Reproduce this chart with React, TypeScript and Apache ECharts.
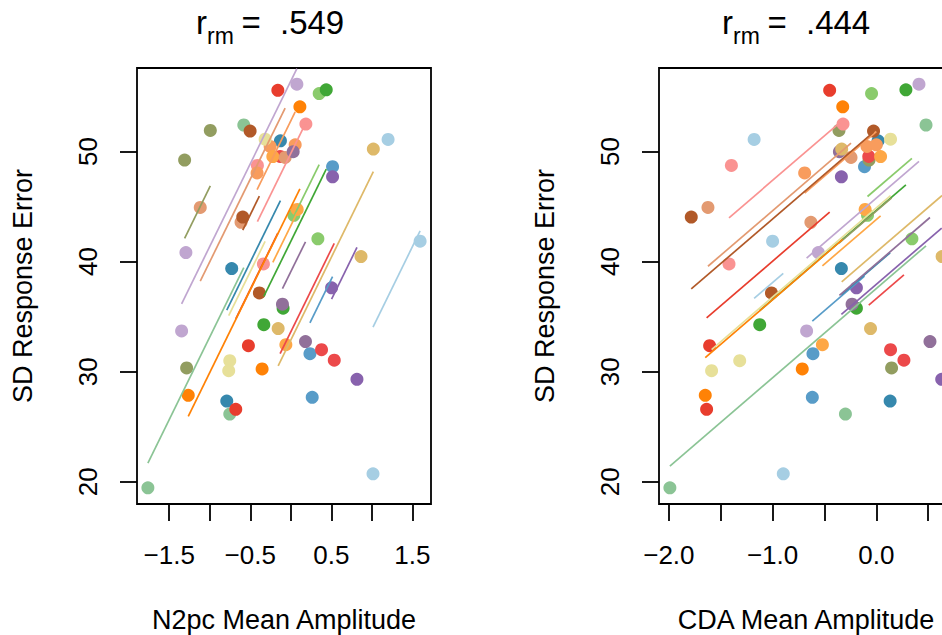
import { useEffect, useRef } from 'react';
import * as echarts from 'echarts';

// Repeated-measures data: 20 participants x 3 conditions.
// Each block of three values belongs to one participant (SUBJECT index).
const SUBJECT = [
  0, 0, 0, 1, 1, 1, 2, 2, 2, 3, 3, 3, 4, 4, 4,
  5, 5, 5, 6, 6, 6, 7, 7, 7, 8, 8, 8, 9, 9, 9,
  10, 10, 10, 11, 11, 11, 12, 12, 12, 13, 13, 13, 14, 14, 14,
  15, 15, 15, 16, 16, 16, 17, 17, 17, 18, 18, 18, 19, 19, 19,
];

// SD response error (shared by both panels)
const SD_ERROR = [
  51.09, 41.85, 20.73, 48.62, 31.63, 27.67, 50.96, 39.36, 27.33, 52.4, 26.15, 19.45, 55.25, 44.2, 42.06,
  55.6, 35.76, 34.27, 51.91, 49.22, 30.34, 52.49, 48.73, 39.78, 49.55, 32.0, 31.04, 55.55, 32.36, 26.58,
  50.45, 50.6, 48.05, 49.53, 44.73, 32.45, 54.05, 30.25, 27.85, 49.46, 44.91, 43.56, 56.11, 40.82, 33.7,
  47.7, 37.61, 29.31, 49.98, 36.13, 32.73, 51.11, 31.0, 30.09, 50.22, 40.45, 33.91, 51.85, 44.04, 37.15,
];

// N2pc mean amplitude
const N2PC = [
  1.2, 1.595, 1.014, 0.515, 0.236, 0.264, -0.128, -0.729, -0.79, -0.58, -0.753, -1.763, 0.35, 0.038, 0.334,
  0.437, -0.095, -0.333, -0.993, -1.31, -1.285, 0.186, -0.412, -0.338, -0.132, 0.379, 0.536, -0.16, -0.523, -0.679,
  -0.255, 0.054, -0.416, -0.222, 0.079, -0.061, 0.112, -0.354, -1.265, -0.07, -1.117, -0.614, 0.075, -1.294, -1.347,
  0.515, 0.503, 0.816, 0.029, -0.103, 0.181, -0.317, -0.753, -0.766, 1.018, 0.866, -0.156, -0.502, -0.593, -0.388,
];

// CDA mean amplitude
const CDA = [
  -1.178, -1.0, -0.897, -0.114, -0.611, -0.617, 0.017, -0.337, 0.133, 0.479, -0.298, -1.99, -0.046, -0.085, 0.343,
  0.285, -0.192, -1.124, -0.36, -0.07, 0.147, -0.321, -1.397, -1.42, -0.073, 0.137, 0.266, -0.45, -1.607, -1.636,
  -0.09, 0.0, -0.691, 0.041, -0.108, -0.52, -0.324, -0.714, -1.649, -0.244, -1.623, -0.631, 0.411, -0.559, -0.672,
  -0.337, -0.192, 0.63, -0.356, -0.234, 0.517, 0.137, -1.317, -1.588, -0.334, 0.634, -0.056, -0.027, -1.784, -1.011,
];

// Participant colours (Paired palette ramped to 20 steps)
const PALETTE = [
  '#A6CEE3', '#589CC8', '#3688AD', '#8BC495', '#8ACB6C',
  '#40A736', '#929D60', '#FA9392', '#EC494A', '#E83D2D',
  '#F89C5D', '#FEA746', '#FF8206', '#E39A71', '#C0A6D0',
  '#8862AD', '#91709A', '#E7E099', '#DEB969', '#B15928',
];

const R_RM = ['.549', '.444'];
const X_NAMES = ['N2pc Mean Amplitude', 'CDA Mean Amplitude'];
const Y_NAME = 'SD Response Error';
const X_TICKS = [
  [-1.5, -1, -0.5, 0, 0.5, 1, 1.5],
  [-2, -1.5, -1, -0.5, 0, 0.5],
];
const X_TICK_LABELS = [
  [-1.5, -0.5, 0.5, 1.5],
  [-2, -1, 0],
];
const Y_TICKS = [20, 30, 40, 50];

const FONT = '"Liberation Sans", Arial, Helvetica, sans-serif';
const PAGE_W = 942;
const PAGE_H = 635;
const CANVAS_W = 980; // second panel runs past the right edge of the page
const PLOT_LEFT = [137, 659];
const PLOT_TOP = 68;
const PLOT_W = 294;
const PLOT_H = 436;
const TITLE_SHIFT = [0, 526];

// base-graphics style range: data range extended by 4% on each side
function paddedRange(v: number[]): [number, number] {
  const lo = Math.min(...v);
  const hi = Math.max(...v);
  const pad = 0.04 * (hi - lo);
  return [lo - pad, hi + pad];
}

// Repeated-measures correlation fit: common slope, participant-specific intercepts
function rmcorrLines(x: number[], y: number[], subj: number[]) {
  const n = Math.max(...subj) + 1;
  const mx = new Array(n).fill(0);
  const my = new Array(n).fill(0);
  const cnt = new Array(n).fill(0);
  subj.forEach((s, i) => {
    mx[s] += x[i];
    my[s] += y[i];
    cnt[s] += 1;
  });
  for (let s = 0; s < n; s++) {
    mx[s] /= cnt[s];
    my[s] /= cnt[s];
  }
  let num = 0;
  let den = 0;
  subj.forEach((s, i) => {
    num += (x[i] - mx[s]) * (y[i] - my[s]);
    den += (x[i] - mx[s]) ** 2;
  });
  const slope = num / den;
  const lines: number[][][] = [];
  for (let s = 0; s < n; s++) {
    const xs = x.filter((_, i) => subj[i] === s);
    const x0 = Math.min(...xs);
    const x1 = Math.max(...xs);
    lines.push([
      [x0, my[s] + slope * (x0 - mx[s])],
      [x1, my[s] + slope * (x1 - mx[s])],
    ]);
  }
  return lines;
}

const fmt = (v: number) => (v < 0 ? '\u2212' : '') + Math.abs(v).toFixed(1);

export default function App() {
  const ref = useRef<HTMLDivElement>(null);

  useEffect(() => {
    if (!ref.current) return;
    const chart = echarts.init(ref.current, null, { renderer: 'svg' });
    const xData = [N2PC, CDA];
    const yRange = paddedRange(SD_ERROR);
    const nSubj = Math.max(...SUBJECT) + 1;

    const series: any[] = [];
    xData.forEach((xs, p) => {
      for (let s = 0; s < nSubj; s++) {
        series.push({
          type: 'scatter',
          xAxisIndex: p,
          yAxisIndex: p,
          symbol: 'circle',
          symbolSize: 13,
          z: 2,
          itemStyle: { color: PALETTE[s], opacity: 1 },
          data: xs
            .map((v, i) => [v, SD_ERROR[i], SUBJECT[i]])
            .filter((d) => d[2] === s)
            .map((d) => [d[0], d[1]]),
        });
      }
    });
    xData.forEach((xs, p) => {
      const lines = rmcorrLines(xs, SD_ERROR, SUBJECT);
      lines.forEach((seg, s) => {
        series.push({
          type: 'line',
          xAxisIndex: p,
          yAxisIndex: p,
          z: 3,
          showSymbol: false,
          symbol: 'none',
          lineStyle: { color: PALETTE[s], width: 1.7 },
          data: seg,
        });
      });
    });

    const textStyle = { fill: '#000', fontFamily: FONT };
    const graphic: any[] = [];
    [0, 1].forEach((p) => {
      const dx = PLOT_LEFT[p] - PLOT_LEFT[0];
      const tx = TITLE_SHIFT[p];
      graphic.push(
        { type: 'text', x: 196 + tx, y: 22.3, style: { ...textStyle, text: 'r', fontSize: 33, align: 'left', verticalAlign: 'middle' } },
        { type: 'text', x: 207 + tx, y: 35.5, style: { ...textStyle, text: 'rm', fontSize: 23, align: 'left', verticalAlign: 'middle' } },
        { type: 'text', x: 241.5 + tx, y: 22.3, style: { ...textStyle, text: '=', fontSize: 33, align: 'left', verticalAlign: 'middle' } },
        { type: 'text', x: 280 + tx, y: 22.3, style: { ...textStyle, text: R_RM[p], fontSize: 33, align: 'left', verticalAlign: 'middle' } },
        { type: 'text', x: PLOT_LEFT[p] + PLOT_W / 2, y: 620, style: { ...textStyle, text: X_NAMES[p], fontSize: 27, align: 'center', verticalAlign: 'middle' } },
        { type: 'text', x: 22.5 + dx, y: PLOT_TOP + PLOT_H / 2, rotation: Math.PI / 2, style: { ...textStyle, text: Y_NAME, fontSize: 27, align: 'center', verticalAlign: 'middle' } },
      );
    });

    chart.setOption({
      animation: false,
      backgroundColor: '#fff',
      grid: [0, 1].map((p) => ({
        left: PLOT_LEFT[p],
        top: PLOT_TOP,
        width: PLOT_W,
        height: PLOT_H,
        show: true,
        borderColor: '#000',
        borderWidth: 1.8,
        backgroundColor: 'transparent',
      })),
      xAxis: xData.map((xs, p) => {
        const r = paddedRange(xs);
        return {
          type: 'value',
          gridIndex: p,
          position: 'bottom',
          min: r[0],
          max: r[1],
          axisLine: { show: false, onZero: false },
          splitLine: { show: false },
          axisTick: { show: true, inside: false, length: 17, customValues: X_TICKS[p], lineStyle: { color: '#000', width: 1.8 } },
          axisLabel: { customValues: X_TICK_LABELS[p], formatter: fmt, margin: 38, fontSize: 26, color: '#000', fontFamily: FONT },
        };
      }),
      yAxis: [0, 1].map((p) => ({
        type: 'value',
        gridIndex: p,
        position: 'left',
        min: yRange[0],
        max: yRange[1],
        axisLine: { show: false, onZero: false },
        splitLine: { show: false },
        axisTick: { show: true, inside: false, length: 17, customValues: Y_TICKS, lineStyle: { color: '#000', width: 1.8 } },
        axisLabel: { customValues: Y_TICKS, rotate: 90, margin: 36, fontSize: 26, color: '#000', fontFamily: FONT, formatter: (v: number) => String(v) },
      })),
      series,
      graphic,
    });
    return () => chart.dispose();
  }, []);

  return (
    <div style={{ position: 'fixed', left: 0, top: 0, width: PAGE_W, height: PAGE_H, overflow: 'hidden', background: '#fff' }}>
      <div ref={ref} style={{ width: CANVAS_W, height: PAGE_H }} />
    </div>
  );
}
